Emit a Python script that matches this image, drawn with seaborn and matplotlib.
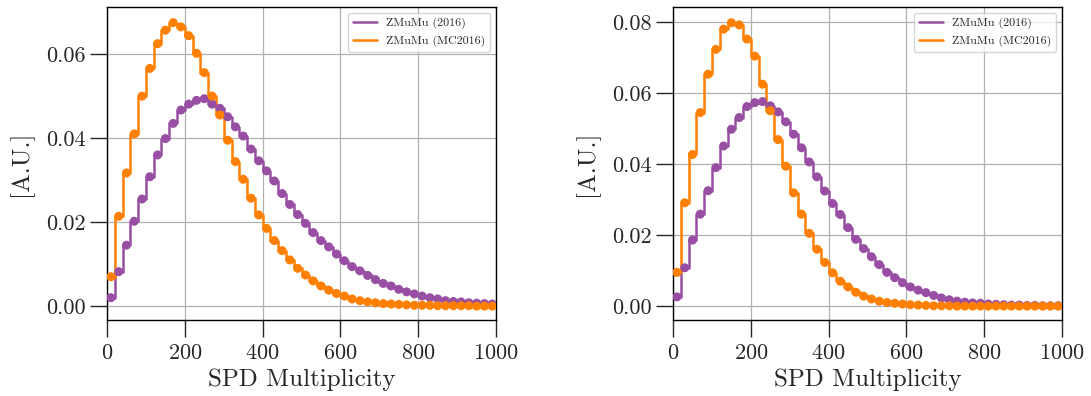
import numpy as np
import pandas as pd
import matplotlib
matplotlib.use("Agg")
import matplotlib.pyplot as plt
import seaborn as sns

# ---- data (bin centres, bin width 20) ----
bin_centres = list(range(10, 1000, 20))

left_data = [0.0020, 0.0082, 0.0145, 0.0202, 0.0255, 0.0308, 0.0360, 0.0399, 0.0435, 0.0467,
             0.0481, 0.0490, 0.0494, 0.0481, 0.0471, 0.0451, 0.0427, 0.0405, 0.0374, 0.0346,
             0.0322, 0.0298, 0.0268, 0.0242, 0.0218, 0.0197, 0.0175, 0.0156, 0.0141, 0.0124,
             0.0108, 0.0094, 0.0084, 0.0073, 0.0063, 0.0054, 0.0048, 0.0040, 0.0034, 0.0029,
             0.0024, 0.0020, 0.0017, 0.0013, 0.0011, 0.0010, 0.0008, 0.0007, 0.0006, 0.0005]
left_mc = [0.0070, 0.0214, 0.0317, 0.0410, 0.0500, 0.0566, 0.0625, 0.0657, 0.0675, 0.0665,
           0.0644, 0.0602, 0.0556, 0.0500, 0.0455, 0.0395, 0.0344, 0.0302, 0.0257, 0.0217,
           0.0185, 0.0156, 0.0132, 0.0110, 0.0090, 0.0074, 0.0060, 0.0048, 0.0038, 0.0030,
           0.0024, 0.0017, 0.0013, 0.0010, 0.0008, 0.0006, 0.0005, 0.0004, 0.0003, 0.0002,
           0.0002, 0.0002, 0.0001, 0.0001, 0.0001, 0.0001, 0.0001, 0.0000, 0.0000, 0.0000]

right_data = [0.0026, 0.0108, 0.0186, 0.0259, 0.0325, 0.0390, 0.0451, 0.0498, 0.0531, 0.0562,
              0.0573, 0.0576, 0.0564, 0.0547, 0.0519, 0.0484, 0.0446, 0.0406, 0.0364, 0.0324,
              0.0289, 0.0258, 0.0221, 0.0188, 0.0162, 0.0139, 0.0117, 0.0095, 0.0080, 0.0066,
              0.0054, 0.0045, 0.0038, 0.0030, 0.0023, 0.0018, 0.0014, 0.0011, 0.0009, 0.0008,
              0.0006, 0.0005, 0.0004, 0.0003, 0.0003, 0.0002, 0.0002, 0.0001, 0.0001, 0.0001]
right_mc = [0.0095, 0.0291, 0.0427, 0.0545, 0.0653, 0.0723, 0.0780, 0.0798, 0.0792, 0.0752,
            0.0704, 0.0625, 0.0550, 0.0469, 0.0394, 0.0319, 0.0259, 0.0205, 0.0160, 0.0123,
            0.0094, 0.0070, 0.0054, 0.0039, 0.0028, 0.0020, 0.0014, 0.0010, 0.0008, 0.0006,
            0.0004, 0.0003, 0.0002, 0.0001, 0.0001, 0.0001, 0.0000, 0.0000, 0.0000, 0.0000,
            0.0000, 0.0000, 0.0000, 0.0000, 0.0000, 0.0000, 0.0000, 0.0000, 0.0000, 0.0000]

labels = ["ZMuMu (2016)", "ZMuMu (MC2016)"]
colors = ["#984ea3", "#ff7f00"]
x_ticks = [0, 200, 400, 600, 800, 1000]

sns.set_style("ticks")
plt.rcParams["font.family"] = ["cmr10", "DejaVu Serif"]
plt.rcParams["mathtext.fontset"] = "cm"
plt.rcParams["axes.formatter.use_mathtext"] = True

fig = plt.figure(figsize=(10.91, 3.96), dpi=100)
ax1 = fig.add_axes([0.0981, 0.192, 0.3566, 0.790])
ax2 = fig.add_axes([0.6169, 0.192, 0.3566, 0.790])

panels = [(ax1, left_data, left_mc, (-0.0033, 0.0712), [0.0, 0.02, 0.04, 0.06]),
          (ax2, right_data, right_mc, (-0.0039, 0.0842), [0.0, 0.02, 0.04, 0.06, 0.08])]

for ax, d, mc, ylim, yticks in panels:
    for vals, lab, col in zip([d, mc], labels, colors):
        df = pd.DataFrame({"x": bin_centres, "y": vals})
        sns.lineplot(data=df, x="x", y="y", ax=ax, color=col, lw=1.8,
                     drawstyle="steps-mid", label=lab, zorder=3)
        sns.scatterplot(data=df, x="x", y="y", ax=ax, color=col, s=42,
                        edgecolor="none", zorder=4, legend=False)
    ax.set_xlim(0, 1000)
    ax.set_ylim(*ylim)
    ax.set_xticks(x_ticks)
    ax.set_yticks(yticks)
    ax.set_yticklabels([f"{v:.2f}" for v in yticks])
    ax.grid(True, color="#b0b0b0", lw=0.9)
    ax.set_axisbelow(True)
    ax.tick_params(axis="both", labelsize=16, length=12, width=1, direction="out")
    ax.tick_params(axis="x", pad=5)
    ax.set_xlabel("SPD Multiplicity", fontsize=18, labelpad=4)
    ax.set_ylabel("[A.U.]", fontsize=18, labelpad=9)
    for sp in ax.spines.values():
        sp.set_visible(True)
        sp.set_linewidth(1.0)
        sp.set_color("black")
    leg = ax.legend(loc="upper right", fontsize=8.6, frameon=True, fancybox=True,
                    handlelength=2.0, borderaxespad=0.5)
    leg.get_frame().set_edgecolor("#cccccc")

fig.savefig("out.png", dpi=100)
